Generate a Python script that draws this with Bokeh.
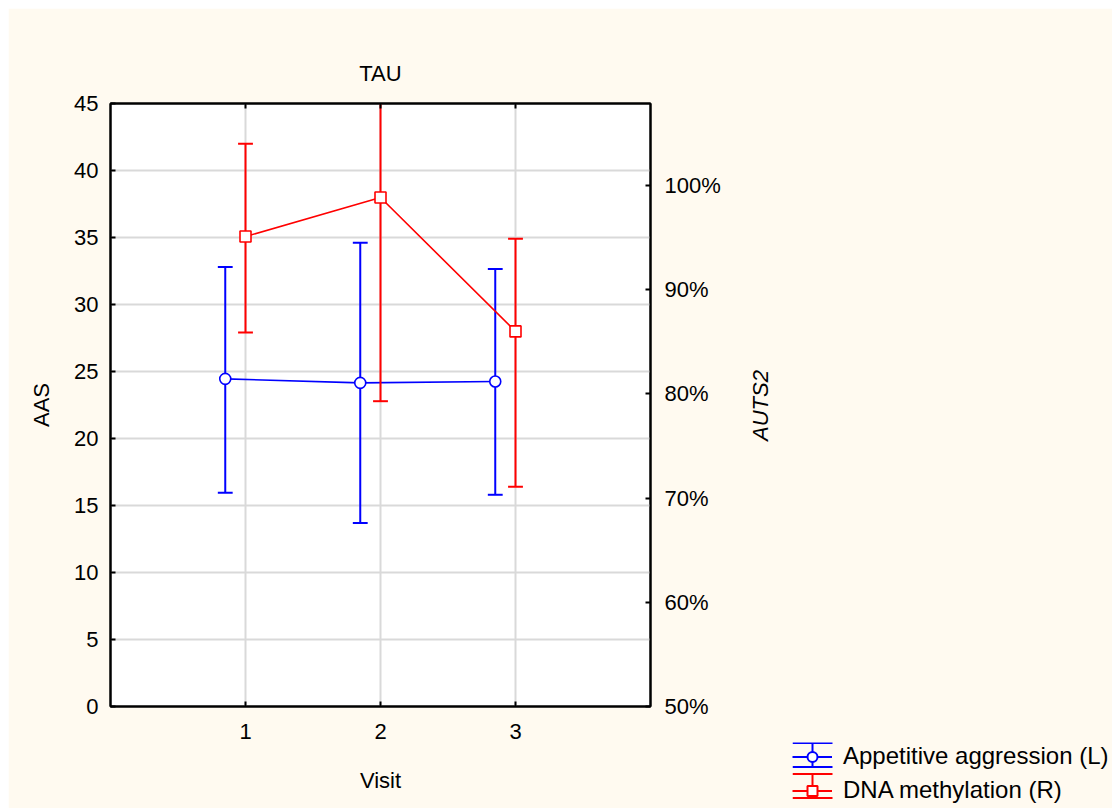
import math
from bokeh.plotting import figure
from bokeh.models import (Range1d, LinearAxis, FixedTicker, PrintfTickFormatter,
                          Legend, LegendItem)
from bokeh.core.properties import value
from bokeh.embed import file_html
from bokeh.resources import INLINE

# --- data -------------------------------------------------------------
visits = [1, 2, 3]

# Appetitive aggression score (left axis): mean with error-bar limits
aas_mean = [24.45, 24.15, 24.25]
aas_lower = [15.95, 13.7, 15.8]
aas_upper = [32.8, 34.6, 32.65]

# AUTS2 DNA methylation in % (right axis): mean with error-bar limits
meth_mean = [95.1, 98.85, 86.0]
meth_lower = [85.9, 79.3, 71.1]
meth_upper = [104.0, 118.4, 94.9]

left_ticks = [0, 5, 10, 15, 20, 25, 30, 35, 40, 45]
right_ticks = [50, 60, 70, 80, 90, 100]

series_labels = ["Appetitive aggression (L)", "DNA methylation (R)"]
right_title = "AUTS2"

# --- style ------------------------------------------------------------
BLUE = "#0000ff"
RED = "#ff0000"
CREAM = "#fffaf0"
GRID = "#d9d9d9"
FONT = "Liberation Sans"
FS = "22px"
DODGE = -0.15      # horizontal shift of the left-axis series
CAP = 0.055        # half width of error-bar caps (x units)

p = figure(width=1104, height=800,
           x_range=Range1d(0, 4), y_range=Range1d(0, 45),
           output_backend="svg", toolbar_location=None,
           background_fill_color="white", border_fill_color=CREAM,
           min_border_left=102, min_border_right=462,
           min_border_top=95, min_border_bottom=102,
           title="TAU")
p.styles = {"margin-left": "8px", "margin-top": "8px"}
p.extra_y_ranges = {"pct": Range1d(50, 107.87)}

p.outline_line_color = "black"
p.outline_line_width = 2

p.title.align = "center"
p.title.text_font = FONT
p.title.text_font_size = FS
p.title.text_font_style = "normal"
p.title.text_color = "black"
p.title.standoff = 36

bottom = p.below[0]
leftax = p.left[0]
bottom.ticker = FixedTicker(ticks=visits)
leftax.ticker = FixedTicker(ticks=left_ticks)
bottom.axis_label = "Visit"
leftax.axis_label = "AAS"

right = LinearAxis(y_range_name="pct", ticker=FixedTicker(ticks=right_ticks),
                   formatter=PrintfTickFormatter(format="%d%%"))
p.add_layout(right, "right")

top = LinearAxis(ticker=FixedTicker(ticks=visits),
                 major_label_overrides={1: "", 2: "", 3: ""})
p.add_layout(top, "above")

for ax in (bottom, leftax, right, top):
    ax.axis_line_color = "black"
    ax.axis_line_width = 2
    ax.major_tick_in = 5
    ax.major_tick_out = 0
    ax.major_tick_line_color = "black"
    ax.major_tick_line_width = 2
    ax.minor_tick_line_color = None
    ax.major_label_text_font = FONT
    ax.major_label_text_font_size = FS
    ax.major_label_text_color = "black"
    ax.major_label_standoff = 12
    ax.axis_label_text_font = FONT
    ax.axis_label_text_font_size = FS
    ax.axis_label_text_font_style = "normal"
    ax.axis_label_text_color = "black"

top.major_label_standoff = 0
top.major_label_text_font_size = "1px"
bottom.major_label_standoff = 17
bottom.axis_label_standoff = 26
leftax.axis_label_standoff = 17
right.major_label_standoff = 14

p.xgrid.ticker = FixedTicker(ticks=visits)
p.ygrid.ticker = FixedTicker(ticks=left_ticks[1:-1])
p.grid.grid_line_color = GRID
p.grid.grid_line_width = 2

# --- appetitive aggression (left axis) --------------------------------
bx = [v + DODGE for v in visits]
p.segment(x0=bx, y0=aas_lower, x1=bx, y1=aas_upper, line_color=BLUE, line_width=2)
p.segment(x0=[x - CAP for x in bx], y0=aas_upper, x1=[x + CAP for x in bx], y1=aas_upper,
          line_color=BLUE, line_width=2)
p.segment(x0=[x - CAP for x in bx], y0=aas_lower, x1=[x + CAP for x in bx], y1=aas_lower,
          line_color=BLUE, line_width=2)
p.line(bx, aas_mean, line_color=BLUE, line_width=1.6)
p.scatter(bx, aas_mean, marker="circle", size=11, fill_color="white",
          line_color=BLUE, line_width=1.6)

# --- DNA methylation (right axis) -------------------------------------
rx = list(visits)
p.segment(x0=rx, y0=meth_lower, x1=rx, y1=meth_upper, line_color=RED, line_width=2,
          y_range_name="pct")
p.segment(x0=[x - CAP for x in rx], y0=meth_upper, x1=[x + CAP for x in rx], y1=meth_upper,
          line_color=RED, line_width=2, y_range_name="pct")
p.segment(x0=[x - CAP for x in rx], y0=meth_lower, x1=[x + CAP for x in rx], y1=meth_lower,
          line_color=RED, line_width=2, y_range_name="pct")
p.line(rx, meth_mean, line_color=RED, line_width=1.6, y_range_name="pct")
p.scatter(rx, meth_mean, marker="square", size=11, fill_color="white",
          line_color=RED, line_width=1.6, y_range_name="pct")

# --- right-axis title (reads bottom to top, centred on the axis) ------
TW, TH = 40, 160
ttl = figure(width=TW, height=TH, x_range=Range1d(0, TW), y_range=Range1d(0, TH),
             x_axis_type=None, y_axis_type=None, output_backend="svg",
             toolbar_location=None, min_border=0, outline_line_color=None,
             background_fill_alpha=0, border_fill_alpha=0)
ttl.styles = {"position": "absolute", "left": "740px", "top": "325px"}
ttl.text(x=[TW / 2], y=[TH / 2], text=[right_title], angle=math.pi / 2,
         text_align="center", text_baseline="middle", text_color="black",
         text_font=value(FONT), text_font_size=value(FS), text_font_style="italic")

# --- legend below the right axis --------------------------------------
# A small transparent canvas laid over the bottom-right corner; its ranges
# are in pixels (y grows downward) so the error-bar icons line up with the
# legend rows.
LW, LH = 320, 66
GW, GH, GAP = 40, 25, 6
leg = figure(width=LW, height=LH, x_range=Range1d(0, LW), y_range=Range1d(LH, 0),
             x_axis_type=None, y_axis_type=None, output_backend="svg",
             toolbar_location=None, min_border=0, outline_line_color=None,
             background_fill_alpha=0, border_fill_alpha=0)
leg.styles = {"position": "absolute", "left": "792px", "top": "742px"}

colors = [BLUE, RED]
markers = ["circle", "square"]
items = []
for i, (lab, col, mk) in enumerate(zip(series_labels, colors, markers)):
    cy = GH / 2 + i * (GH + GAP)
    top_y, bot_y = cy - GH / 2 + 0.5, cy + GH / 2 - 0.5
    # caps and stem of the error-bar icon
    leg.segment(x0=[0, 0, GW / 2], y0=[top_y, bot_y, top_y],
                x1=[GW, GW, GW / 2], y1=[top_y, bot_y, bot_y],
                line_color=col, line_width=2)
    # off-canvas glyphs that give the legend its line and marker
    ln = leg.line(x=[-100, -90], y=[-100, -100], line_color=col, line_width=2)
    sc = leg.scatter(x=[-100], y=[-100], marker=mk, fill_color="white",
                     line_color=col, line_width=2)
    items.append(LegendItem(label=lab, renderers=[ln, sc]))

legend = Legend(items=items, location="top_left", glyph_width=GW, glyph_height=GH,
                label_height=GH, spacing=GAP, padding=0, margin=0, label_standoff=11,
                border_line_color=None, background_fill_alpha=0,
                label_text_font=FONT, label_text_font_size="24px",
                label_text_color="black", label_text_baseline="middle")
leg.add_layout(legend)

open("out.html", "w").write(file_html((p, ttl, leg), INLINE))
